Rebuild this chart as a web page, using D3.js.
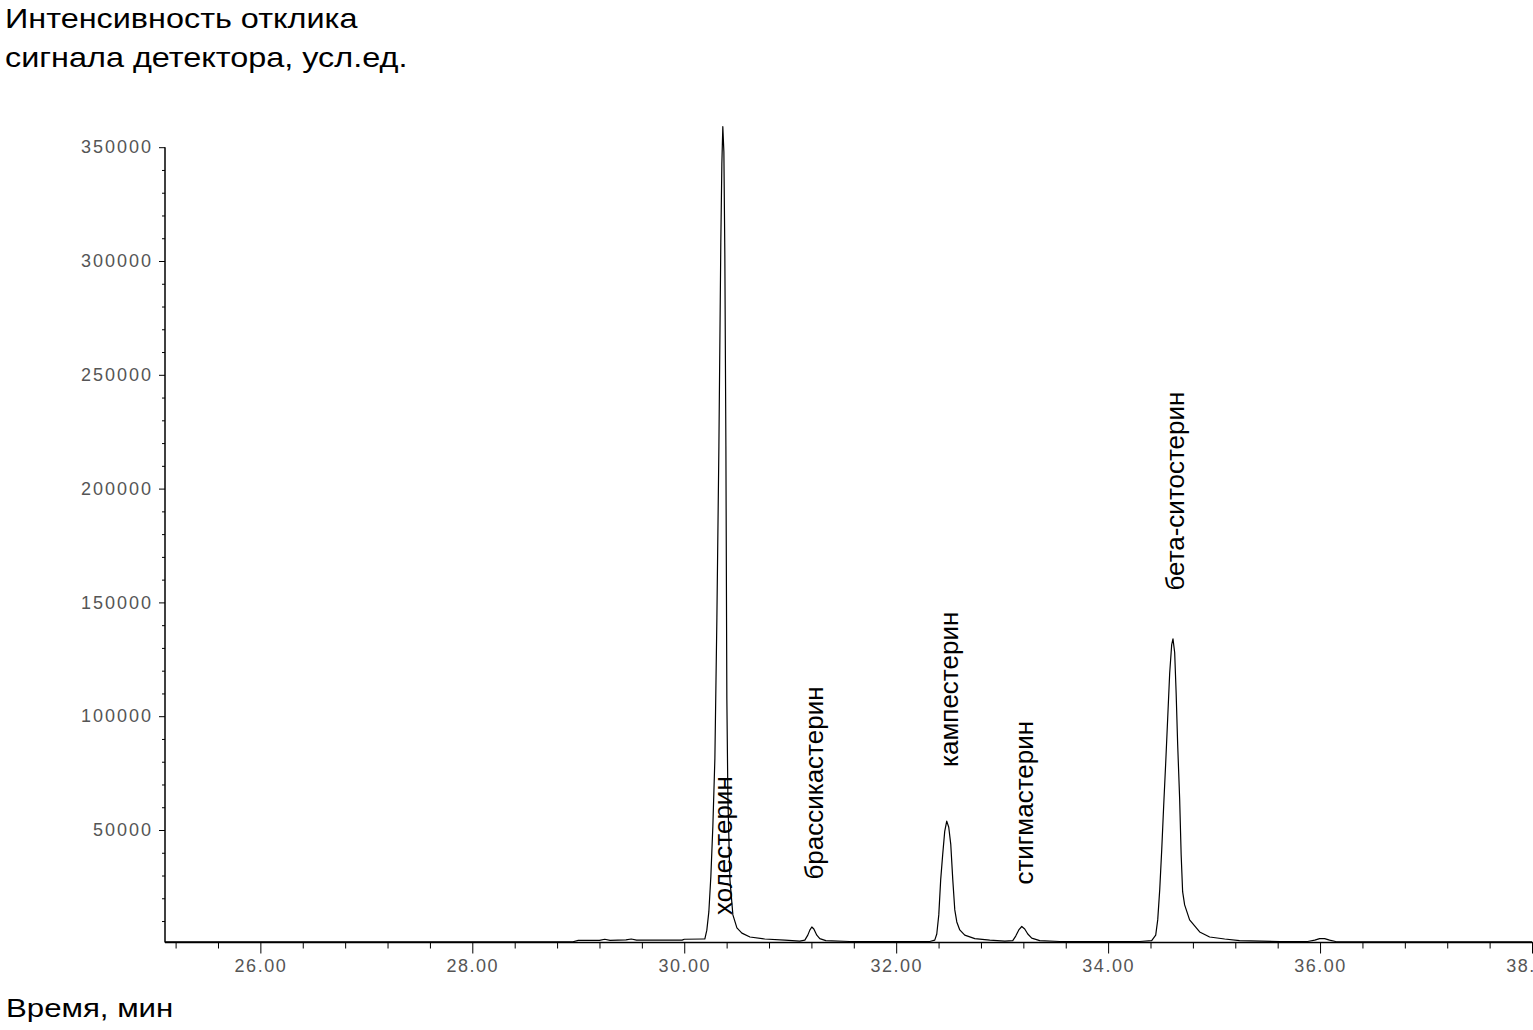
<!DOCTYPE html>
<html>
<head>
<meta charset="utf-8">
<script src="https://cdn.jsdelivr.net/npm/d3@7"></script>
<style>
  html, body { margin: 0; padding: 0; background: #fff; }
  svg { display: block; }
  text { font-family: "Liberation Sans", Arial, sans-serif; }
</style>
</head>
<body>
<svg id="chart" width="1533" height="1030"></svg>
<script>
// ---- data ----
const times = [
  25.10, 26.00, 27.00, 28.00, 28.95, 29.00, 29.20, 29.25, 29.30, 29.45, 29.50, 29.55, 29.98, 30.00, 30.18,
  30.194, 30.213, 30.232, 30.251, 30.270, 30.289, 30.308, 30.327, 30.345, 30.355, 30.364, 30.374, 30.383,
  30.393, 30.402, 30.412, 30.431, 30.459, 30.497, 30.544, 30.620, 30.760, 30.949, 31.090,
  31.138, 31.166, 31.185, 31.204, 31.223, 31.251, 31.279, 31.336, 31.560, 32.030, 32.317,
  32.364, 32.383, 32.402, 32.420, 32.439, 32.458, 32.477, 32.496, 32.515, 32.534, 32.553, 32.572,
  32.600, 32.647, 32.742, 32.883, 33.025,
  33.100, 33.128, 33.157, 33.185, 33.213, 33.242, 33.279, 33.355, 33.543, 33.920, 34.298,
  34.411, 34.449, 34.468, 34.487, 34.506, 34.525, 34.543, 34.562, 34.581, 34.600, 34.612, 34.628,
  34.642, 34.656, 34.675, 34.689, 34.703, 34.722, 34.769, 34.864, 34.958, 35.100, 35.240, 35.620,
  35.883, 35.950, 35.996, 36.043, 36.090, 36.147, 36.373, 38.000
];
const intensity = [
  900, 900, 900, 900, 900, 1500, 1500, 2000, 1500, 1700, 2100, 1600, 1600, 2000, 2100,
  2100, 6000, 14000, 29500, 51700, 81300, 143200, 218500, 308000, 343000, 359000, 348000, 303000,
  218500, 107800, 63600, 28200, 12700, 7000, 4700, 3000, 2100, 1600, 1200,
  1600, 3800, 6000, 7400, 6500, 3800, 2300, 1400, 1000, 1000, 1000,
  1600, 4300, 12700, 28200, 39300, 49400, 53900, 51200, 43700, 28200, 14900, 9600,
  6100, 3800, 2300, 1600, 1200,
  1400, 3400, 6100, 7600, 6500, 4300, 2500, 1400, 1000, 1000, 1000,
  1400, 3800, 10500, 23800, 41500, 61400, 79100, 99000, 119000, 131500, 134000, 128000,
  110000, 87900, 63600, 39300, 22900, 17100, 10500, 5200, 3000, 2100, 1400, 1000,
  1000, 1600, 2300, 2300, 1600, 1000, 900, 900
];

const peakNames  = ["холестерин", "брассикастерин", "кампестерин", "стигмастерин", "бета-ситостерин"];
const labelTimes = [30.449, 31.308, 32.581, 33.289, 34.713];
const labelValues = [12700, 28200, 77700, 26000, 155200];

const xTicks = [26, 28, 30, 32, 34, 36, 38];
const yTicks = [50000, 100000, 150000, 200000, 250000, 300000, 350000];

const yTitleLines = ["Интенсивность отклика", "сигнала детектора, усл.ед."];
const xTitle = "Время, мин";

// ---- drawing ----
const svg = d3.select("#chart");

const x = d3.scaleLinear().domain([25.1, 38.0]).range([165, 1532]);
const y = d3.scaleLinear().domain([0, 350000]).range([943.8, 147.2]);
const axisY = 942.5;

const tickColor = "#000";
const labelColor = "#555";

// Y axis: minor ticks
const yMinor = d3.range(10000, 350001, 10000).filter(v => v % 50000 !== 0);
svg.append("g")
  .attr("transform", "translate(165,0)")
  .call(d3.axisLeft(y).tickValues(yMinor).tickSize(3).tickSizeOuter(0).tickFormat(""))
  .call(g => g.select(".domain").remove())
  .call(g => g.selectAll("line").attr("stroke", tickColor));

// Y axis: major ticks + labels
const gy = svg.append("g")
  .attr("transform", "translate(165,0)")
  .call(d3.axisLeft(y).tickValues(yTicks).tickSize(6).tickSizeOuter(0).tickPadding(6).tickFormat(d3.format("d")));
gy.select(".domain").remove();
gy.selectAll("line").attr("stroke", tickColor);
gy.selectAll("text")
  .attr("fill", labelColor)
  .style("font-size", "18px")
  .style("letter-spacing", "2px");

// Y axis line
svg.append("line")
  .attr("x1", 165).attr("x2", 165)
  .attr("y1", y(350000)).attr("y2", axisY)
  .attr("stroke", "#000").attr("stroke-width", 1.5);

// X axis: minor ticks
const xMinor = d3.range(25.2, 38.0, 0.4).filter(v => Math.abs(v / 2 - Math.round(v / 2)) > 0.01);
svg.append("g")
  .attr("transform", `translate(0,${axisY})`)
  .call(d3.axisBottom(x).tickValues(xMinor).tickSize(6).tickSizeOuter(0).tickFormat(""))
  .call(g => g.select(".domain").remove())
  .call(g => g.selectAll("line").attr("stroke", tickColor));

// X axis: major ticks + labels
const gx = svg.append("g")
  .attr("transform", `translate(0,${axisY})`)
  .call(d3.axisBottom(x).tickValues(xTicks).tickSize(11).tickSizeOuter(0).tickPadding(6).tickFormat(d3.format(".2f")));
gx.select(".domain").remove();
gx.selectAll("line").attr("stroke", tickColor);
gx.selectAll("text")
  .attr("fill", labelColor)
  .style("font-size", "18px")
  .style("letter-spacing", "1.5px");

// X axis line
svg.append("line")
  .attr("x1", 165).attr("x2", 1533)
  .attr("y1", axisY).attr("y2", axisY)
  .attr("stroke", "#000").attr("stroke-width", 1.5);

// Chromatogram trace
const pts = times.map((t, i) => [t, intensity[i]]);
svg.append("path")
  .datum(pts)
  .attr("fill", "none")
  .attr("stroke", "#000")
  .attr("stroke-width", 1.2)
  .attr("stroke-linejoin", "round")
  .attr("d", d3.line().x(d => x(d[0])).y(d => y(d[1])));

// Peak labels (rotated)
svg.selectAll("text.peak")
  .data(peakNames)
  .enter().append("text")
  .attr("class", "peak")
  .attr("transform", (d, i) => `translate(${x(labelTimes[i])},${y(labelValues[i])}) rotate(-90)`)
  .attr("text-anchor", "start")
  .style("font-size", "26px")
  .attr("fill", "#000")
  .text(d => d);

// Axis titles
const yt = svg.append("text")
  .attr("transform", "translate(5,0) scale(1.2,1)")
  .style("font-size", "27px")
  .attr("fill", "#000");
yt.selectAll("tspan")
  .data(yTitleLines)
  .enter().append("tspan")
  .attr("x", 0)
  .attr("y", (d, i) => 28 + i * 39)
  .text(d => d);

svg.append("text")
  .attr("transform", "translate(6,1017) scale(1.2,1)")
  .style("font-size", "26px")
  .attr("fill", "#000")
  .text(xTitle);
</script>
</body>
</html>
